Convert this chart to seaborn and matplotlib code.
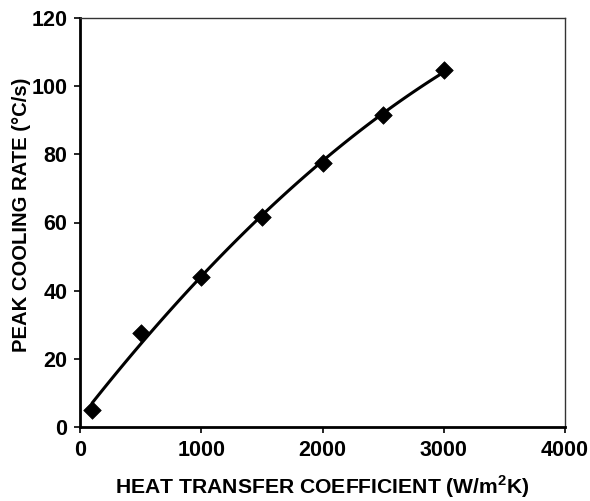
import numpy as np
import pandas as pd
import matplotlib
matplotlib.use("Agg")
import matplotlib.pyplot as plt
import seaborn as sns

# Peak cooling rate versus heat transfer coefficient
htc = [100, 500, 1000, 1500, 2000, 2500, 3000]
cooling_rate = [5.0, 27.5, 43.9, 61.7, 77.4, 91.5, 104.8]

df = pd.DataFrame({"htc": htc, "rate": cooling_rate})

sns.set_style("white")
plt.rcParams["font.family"] = ["Liberation Sans", "DejaVu Sans"]
plt.rcParams["font.weight"] = "bold"
plt.rcParams["text.color"] = "black"
plt.rcParams["axes.labelcolor"] = "black"
plt.rcParams["mathtext.fontset"] = "custom"
plt.rcParams["mathtext.bf"] = "Liberation Sans:bold"
plt.rcParams["mathtext.rm"] = "Liberation Sans:bold"

fig = plt.figure(figsize=(5.9, 5.01), dpi=100)
ax = fig.add_axes([80 / 590, 1 - 427 / 501, 485 / 590, 409 / 501])

# second-order trend line through the measured points
sns.regplot(data=df, x="htc", y="rate", order=2, ci=None, truncate=True,
            scatter=False, color="black", line_kws={"lw": 2.2}, ax=ax)
sns.scatterplot(data=df, x="htc", y="rate", marker="D", s=80,
                color="black", edgecolor="black", linewidth=0.5, ax=ax, zorder=3)

ax.set_xlim(0, 4000)
ax.set_ylim(0, 120)
ax.set_xticks([0, 1000, 2000, 3000, 4000])
ax.set_yticks([0, 20, 40, 60, 80, 100, 120])

for side in ["left", "bottom"]:
    ax.spines[side].set_linewidth(2.0)
    ax.spines[side].set_color("black")
for side in ["top", "right"]:
    ax.spines[side].set_linewidth(1.0)
    ax.spines[side].set_color("#333333")
    ax.spines[side].set_visible(True)

ax.tick_params(axis="both", which="major", direction="out", length=4, width=1.2,
               labelsize=15.5, colors="black", bottom=True, left=True, pad=5)
for lab in ax.get_xticklabels() + ax.get_yticklabels():
    lab.set_fontweight("bold")

ax.set_xlabel("HEAT TRANSFER COEFFICIENT (W/m$^{2}$K)", fontsize=15.2,
              fontweight="bold", color="black")
ax.set_ylabel("PEAK COOLING RATE (\u00b0C/s)", fontsize=14.6,
              fontweight="bold", color="black")
ax.xaxis.set_label_coords(0.5, -0.113)
ax.yaxis.set_label_coords(-0.101, 0.52)

fig.savefig("out.png", dpi=100)
